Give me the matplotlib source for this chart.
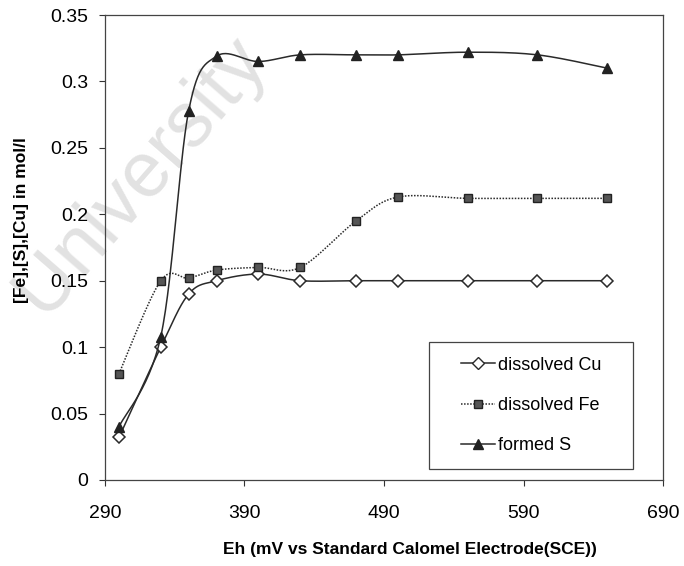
import numpy as np
import matplotlib.pyplot as plt
from matplotlib.patches import Rectangle

plt.rcParams['font.family'] = ['Liberation Sans', 'DejaVu Sans']

# Eh in mV vs SCE
eh = [300, 330, 350, 370, 400, 430, 470, 500, 550, 600, 650]
cu = [0.032, 0.100, 0.140, 0.150, 0.155, 0.150, 0.150, 0.150, 0.150, 0.150, 0.150]
fe = [0.080, 0.150, 0.152, 0.158, 0.160, 0.160, 0.195, 0.213, 0.212, 0.212, 0.212]
s = [0.040, 0.108, 0.278, 0.319, 0.315, 0.320, 0.320, 0.320, 0.322, 0.320, 0.310]

xticks = [290, 390, 490, 590, 690]
yticks = [0, 0.05, 0.1, 0.15, 0.2, 0.25, 0.3, 0.35]
ytick_labels = ['0', '0.05', '0.1', '0.15', '0.2', '0.25', '0.3', '0.35']


def smooth(x, y, n=30):
    # excel-like smoothed line: bezier through the points
    p = np.column_stack([x, y]).astype(float)
    p = np.vstack([p[0], p, p[-1]])
    out = []
    t = np.linspace(0, 1, n)[:, None]
    for i in range(1, len(p) - 2):
        p0, p1, p2, p3 = p[i - 1], p[i], p[i + 1], p[i + 2]
        c1 = p1 + (p2 - p0) / 6
        c2 = p2 - (p3 - p1) / 6
        seg = ((1 - t) ** 3) * p1 + 3 * ((1 - t) ** 2) * t * c1 + 3 * (1 - t) * t ** 2 * c2 + t ** 3 * p2
        out.append(seg)
    out = np.vstack(out)
    return out[:, 0], out[:, 1]


fig = plt.figure(figsize=(6.84, 5.66), dpi=100)
ax = fig.add_axes([105 / 684, 1 - 480 / 566, 558 / 684, 465 / 566])
ax.patch.set_alpha(0)

# faded watermark, behind everything else
ax.text(0.205, 0.69, 'University', fontsize=56, color='#e2e2e2', rotation=49,
        ha='center', va='center', transform=fig.transFigure, zorder=0, clip_on=False)

lc = '#2a2a2a'
sx, sy = smooth(eh, cu)
ax.plot(sx, sy, color=lc, lw=1.1)
ax.plot(eh, cu, ls='none', marker='D', ms=6, mfc='white', mec=lc, mew=1.1)
ax.plot([], [], color=lc, lw=1.1, marker='D', ms=6, mfc='white', mec=lc, label='dissolved Cu')

sx, sy = smooth(eh, fe)
ax.plot(sx, sy, color=lc, lw=1.1, ls=(0, (1, 1)))
ax.plot(eh, fe, ls='none', marker='s', ms=6, mfc='#555555', mec='#222222', mew=1)
ax.plot([], [], color=lc, lw=1.1, ls=(0, (1, 1)), marker='s', ms=6, mfc='#555555', mec='#222222',
        label='dissolved Fe')

sx, sy = smooth(eh, s)
ax.plot(sx, sy, color=lc, lw=1.1)
ax.plot(eh, s, ls='none', marker='^', ms=7, mfc='#222222', mec='#222222')
ax.plot([], [], color=lc, lw=1.1, marker='^', ms=7, mfc='#222222', mec='#222222', label='formed S')

ax.set_xlim(290, 690)
ax.set_ylim(0, 0.35)
ax.set_xticks(xticks)
ax.set_yticks(yticks)
ax.set_yticklabels(ytick_labels)
ax.tick_params(direction='out', length=4, width=0.8, color='#333333', labelsize=14, pad=8)
ax.tick_params(axis='x', pad=14)
for sp in ax.spines.values():
    sp.set_color('#444444')
    sp.set_linewidth(0.9)

ax.set_xlabel('Eh (mV vs Standard Calomel Electrode(SCE))', fontsize=12.5, fontweight='bold')
ax.xaxis.set_label_coords(0.547, -0.133)
ax.set_ylabel('[Fe],[S],[Cu] in mol/l', fontsize=12.5, fontweight='bold')
ax.yaxis.set_label_coords(-0.136, 0.56)

# legend box drawn separately, entries centred in it
x0, x1 = (429 - 105) / 558, (633 - 105) / 558
y0, y1 = (480 - 469) / 465, (480 - 342) / 465
ax.add_patch(Rectangle((x0, y0), x1 - x0, y1 - y0, transform=ax.transAxes, fill=True,
                       facecolor='white', edgecolor='#444444', lw=0.9, zorder=4))
leg = ax.legend(loc='center', bbox_to_anchor=((x0 + x1) / 2, (y0 + y1) / 2), fontsize=13,
                labelspacing=1.3, handlelength=1.9, handletextpad=0.15, borderpad=0.3,
                frameon=False)
leg.set_zorder(5)

plt.savefig('out.png', dpi=100)
